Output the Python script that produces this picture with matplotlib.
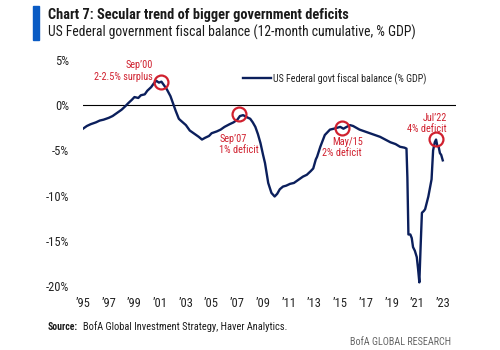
import matplotlib
matplotlib.use("Agg")
import matplotlib.pyplot as plt
from matplotlib import font_manager as fm
from matplotlib.patches import Rectangle

# ---------- data ----------
years = [1995.0, 1995.3, 1995.6, 1996.0, 1996.3, 1996.6, 1997.0, 1997.3, 1997.6, 1998.0,
         1998.3, 1998.5, 1998.8, 1999.0, 1999.3, 1999.5, 1999.8, 2000.0, 2000.3, 2000.5,
         2000.7, 2000.9, 2001.1, 2001.3, 2001.5, 2001.8, 2002.0, 2002.2, 2002.45, 2002.6,
         2003.0, 2003.3, 2003.7, 2004.0, 2004.25, 2004.5, 2004.8, 2005.0, 2005.4, 2005.7,
         2006.0, 2006.4, 2006.7, 2007.0, 2007.2, 2007.45, 2007.7, 2008.0, 2008.2, 2008.4,
         2008.6, 2008.8, 2009.0, 2009.15, 2009.4, 2009.65, 2009.9, 2010.1, 2010.3, 2010.55,
         2010.8, 2011.1, 2011.4, 2011.6, 2011.9, 2012.1, 2012.4, 2012.7, 2012.9, 2013.1,
         2013.2, 2013.45, 2013.8, 2014.2, 2014.5, 2014.75, 2015.0, 2015.25, 2015.5, 2015.75,
         2016.0, 2016.5, 2016.9, 2017.3, 2017.7, 2018.1, 2018.5, 2018.9, 2019.3, 2019.65,
         2020.0, 2020.15, 2020.22, 2020.3, 2020.45, 2020.56, 2020.66, 2020.8, 2020.95, 2021.05,
         2021.15, 2021.25, 2021.35, 2021.5, 2021.6, 2021.85, 2022.1, 2022.22, 2022.35, 2022.45,
         2022.55, 2022.65, 2022.75, 2022.85, 2022.97]
balance = [-2.6, -2.3, -2.1, -1.9, -1.7, -1.6, -1.4, -1.2, -0.9, -0.5,
           -0.1, 0.2, 0.6, 0.9, 0.8, 1.1, 1.2, 1.6, 2.0, 2.4,
           2.7, 2.5, 2.6, 2.2, 1.8, 1.0, 0.2, -0.6, -1.5, -1.7,
           -2.2, -2.8, -3.2, -3.5, -3.8, -3.6, -3.4, -3.1, -2.9, -2.7,
           -2.4, -2.1, -1.9, -1.6, -1.2, -1.1, -1.3, -1.5, -1.9, -2.4,
           -3.2, -4.2, -5.5, -6.4, -8.6, -9.7, -10.1, -9.8, -9.3, -9.0,
           -8.9, -8.7, -8.6, -8.4, -8.1, -7.9, -7.7, -7.3, -7.0, -6.0,
           -5.7, -4.6, -3.3, -2.7, -2.6, -2.5, -2.4, -2.6, -2.4, -2.2,
           -2.3, -2.7, -2.9, -3.1, -3.3, -3.5, -3.8, -4.1, -4.3, -4.6,
           -4.7, -4.8, -8.0, -14.3, -14.3, -14.7, -15.7, -16.1, -16.8, -18.1,
           -19.6, -15.6, -11.9, -11.7, -11.5, -10.1, -8.2, -5.0, -4.1, -3.8,
           -4.5, -4.6, -5.3, -5.5, -6.1]

x_ticks = list(range(1995, 2024, 2))
x_labels = ["\u201995", "\u201997", "\u201999", "\u201901", "\u201903", "\u201905", "\u201907",
            "\u201909", "\u201911", "\u201913", "\u201915", "\u201917", "\u201919", "\u201921", "\u201923"]
y_ticks = [5, 0, -5, -10, -15, -20]
y_labels = ["5%", "0%", "-5%", "-10%", "-15%", "-20%"]

ann_points_x = [2001.07, 2007.1, 2015.15, 2022.45]
ann_points_y = [2.6, -1.0, -2.5, -3.75]
ann_top = ["Sep\u201900", "Sep\u201907", "May/15", "Jul\u201922"]
ann_bottom = ["2-2.5% surplus", "1% deficit", "2% deficit", "4% deficit"]

NAVY = "#0b1f5c"
RED = "#d0202e"
DARK = "#222222"

# ---------- font choice: prefer a condensed face ----------
def _w(f):
    w = f.weight
    if isinstance(w, str):
        w = fm.weight_dict.get(w, 400)
    return w

def pick(bold):
    prefs = ["Liberation Sans Narrow", "Roboto Condensed", "Open Sans Condensed",
             "Noto Sans", "DejaVu Sans", "Open Sans", "Roboto", "Lato", "Inter"]
    target = 700 if bold else 400
    best = None
    for f in fm.fontManager.ttflist:
        cond = (f.stretch in ("condensed", "semi-condensed", "extra-condensed", "ultra-condensed")
                or "Condensed" in f.name or "Narrow" in f.name
                or "Condensed" in f.fname or "Narrow" in f.fname)
        if not cond or f.style != "normal":
            continue
        rank = next((i for i, p in enumerate(prefs) if f.name.startswith(p)), len(prefs))
        key = (abs(_w(f) - target), rank)
        if best is None or key < best[0]:
            best = (key, f.fname)
    if best is None:
        return fm.FontProperties(family="Liberation Sans", weight="bold" if bold else "normal")
    return fm.FontProperties(fname=best[1])

FP = pick(False)
FPB = pick(True)

def fp(size, bold=False):
    p = (FPB if bold else FP).copy()
    p.set_size(size)
    return p

# ---------- figure ----------
fig = plt.figure(figsize=(5, 3.5), dpi=100)
ax = fig.add_axes([83/500, 1-286/350, 373/500, 226/350])
ax.plot(years, balance, color=NAVY, lw=1.7, label="US Federal govt fiscal balance (% GDP)")
ax.axhline(0, color="black", lw=0.8, zorder=1)
ax.set_xlim(1995, 2024)
ax.set_ylim(-20, 5)
ax.set_xticks(x_ticks)
ax.set_xticklabels(x_labels)
ax.set_yticks(y_ticks)
ax.set_yticklabels(y_labels)
ax.tick_params(axis="both", length=0, colors=DARK)
ax.tick_params(axis="x", pad=8)
ax.tick_params(axis="y", pad=10)
for s in ax.spines.values():
    s.set_visible(False)
for lab in ax.get_xticklabels() + ax.get_yticklabels():
    lab.set_fontproperties(fp(9))
for lab in ax.get_yticklabels():
    lab.set_horizontalalignment("right")

ax.plot(ann_points_x, ann_points_y, ls="none", marker="o", ms=10, mfc="none", mec=RED,
        mew=1.6, zorder=5, clip_on=False)

ann_texts = [
    ax.text(2000.44, 4.45, ann_top[0], color=RED, fontproperties=fp(9), ha="right", va="center"),
    ax.text(2000.44, 3.15, ann_bottom[0], color=RED, fontproperties=fp(9), ha="right", va="center"),
    ax.text(2005.58, -3.75, ann_top[1], color=RED, fontproperties=fp(9), ha="left", va="center"),
    ax.text(2005.58, -4.95, ann_bottom[1], color=RED, fontproperties=fp(9), ha="left", va="center"),
    ax.text(2015.55, -4.05, ann_top[2], color=RED, fontproperties=fp(9), ha="center", va="center"),
    ax.text(2015.1, -5.25, ann_bottom[2], color=RED, fontproperties=fp(9), ha="center", va="center"),
    ax.text(2023.3, -1.4, ann_top[3], color=RED, fontproperties=fp(9), ha="right", va="center"),
    ax.text(2023.3, -2.6, ann_bottom[3], color=RED, fontproperties=fp(9), ha="right", va="center"),
]

leg = ax.legend(loc="upper left", bbox_to_anchor=(155/373, 1-8/226), frameon=False,
                prop=fp(9), handlelength=2.2, handletextpad=0.2, borderaxespad=0)
for tt in leg.get_texts():
    tt.set_color(DARK)

fig.patches.append(Rectangle((33/500, 1-40/350), 6/500, 34/350, transform=fig.transFigure,
                             color="#0a5bc4", figure=fig))
t1 = fig.text(48/500, 1-15/350, "Chart 7: Secular trend of bigger government deficits",
              fontproperties=fp(11, True), color="#1a1a1a", va="center", ha="left")
t2 = fig.text(48/500, 1-32/350, "US Federal government fiscal balance (12-month cumulative, % GDP)",
              fontproperties=fp(11), color="#1a1a1a", va="center", ha="left")
ts = fig.text(48/500, 1-327/350, "Source:", fontproperties=fp(9, True), color="#1a1a1a", va="center")
ts2 = fig.text(84/500, 1-327/350, "BofA Global Investment Strategy, Haver Analytics.",
               fontproperties=fp(9), color="#1a1a1a", va="center")
tb = fig.text(451/500, 1-342/350, "BofA GLOBAL RESEARCH", fontproperties=fp(9), color="#666666",
              va="center", ha="right")

# shrink texts (only shrink) so they span the reference widths
fig.canvas.draw()
r = fig.canvas.get_renderer()
for obj, target in [(t1, 300), (t2, 368), (ts, 30), (ts2, 204), (tb, 101),
                    (leg.get_texts()[0], 153)]:
    w = obj.get_window_extent(r).width
    if w > target:
        obj.set_fontsize(obj.get_fontsize() * target / w)
# annotation texts share one size, set by the "2-2.5% surplus" width
w = ann_texts[1].get_window_extent(r).width
ann_size = 9 * 59 / w
for tt in ann_texts:
    tt.set_fontsize(ann_size)
fig.canvas.draw()
ext = ts.get_window_extent(r)
ts2.set_x((ext.x1 + 5) / 500)

fig.savefig("out.png", dpi=100, facecolor="white")
